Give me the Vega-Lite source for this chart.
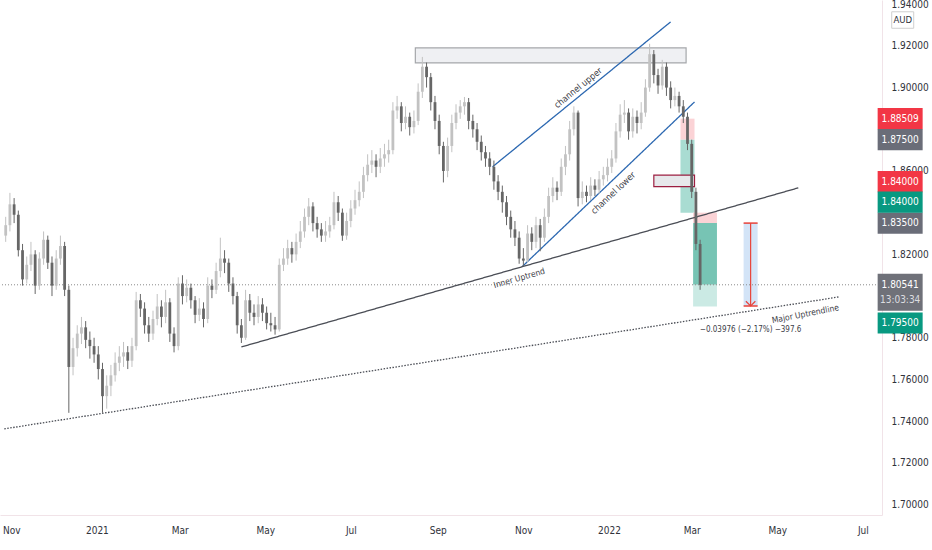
{
  "$schema": "https://vega.github.io/schema/vega-lite/v6.json",
  "width": 882,
  "height": 515,
  "autosize": {"type": "none"},
  "padding": {"left": 0, "top": 0, "right": 50, "bottom": 35},
  "background": "#ffffff",
  "config": {
    "view": {"stroke": null},
    "font": "DejaVu Sans Condensed, DejaVu Sans, sans-serif",
    "axis": {
      "labelFont": "DejaVu Sans Condensed, DejaVu Sans, sans-serif",
      "labelFontSize": 10,
      "labelColor": "#2f323a",
      "grid": false,
      "ticks": false,
      "tickSize": 0,
      "domainColor": "#f1e3e8",
      "zindex": 0
    }
  },
  "datasets": {
    "candles": [
      {"d": "2020-10-28", "o": 1.829, "h": 1.838, "l": 1.826, "c": 1.834},
      {"d": "2020-10-31", "o": 1.834, "h": 1.8495, "l": 1.831, "c": 1.844},
      {"d": "2020-11-03", "o": 1.844, "h": 1.847, "l": 1.835, "c": 1.839},
      {"d": "2020-11-06", "o": 1.839, "h": 1.841, "l": 1.819, "c": 1.822},
      {"d": "2020-11-09", "o": 1.822, "h": 1.825, "l": 1.805, "c": 1.808},
      {"d": "2020-11-12", "o": 1.808, "h": 1.819, "l": 1.806, "c": 1.815},
      {"d": "2020-11-15", "o": 1.815, "h": 1.826, "l": 1.812, "c": 1.82},
      {"d": "2020-11-18", "o": 1.82, "h": 1.822, "l": 1.801, "c": 1.805},
      {"d": "2020-11-21", "o": 1.805, "h": 1.821, "l": 1.803, "c": 1.818},
      {"d": "2020-11-24", "o": 1.818, "h": 1.831, "l": 1.815, "c": 1.827},
      {"d": "2020-11-27", "o": 1.827, "h": 1.829, "l": 1.813, "c": 1.816},
      {"d": "2020-11-30", "o": 1.816, "h": 1.819, "l": 1.8, "c": 1.805},
      {"d": "2020-12-03", "o": 1.805, "h": 1.822, "l": 1.803, "c": 1.818},
      {"d": "2020-12-06", "o": 1.818, "h": 1.829, "l": 1.815, "c": 1.824},
      {"d": "2020-12-09", "o": 1.824, "h": 1.826, "l": 1.8, "c": 1.803},
      {"d": "2020-12-12", "o": 1.803, "h": 1.805, "l": 1.744, "c": 1.766},
      {"d": "2020-12-15", "o": 1.766, "h": 1.78, "l": 1.762, "c": 1.775},
      {"d": "2020-12-18", "o": 1.775, "h": 1.786, "l": 1.771, "c": 1.782},
      {"d": "2020-12-21", "o": 1.782, "h": 1.79, "l": 1.777, "c": 1.785},
      {"d": "2020-12-24", "o": 1.785, "h": 1.788, "l": 1.775, "c": 1.779},
      {"d": "2020-12-27", "o": 1.779, "h": 1.783, "l": 1.77, "c": 1.776},
      {"d": "2020-12-30", "o": 1.776, "h": 1.78, "l": 1.768, "c": 1.772},
      {"d": "2021-01-02", "o": 1.772, "h": 1.776, "l": 1.76, "c": 1.765},
      {"d": "2021-01-05", "o": 1.765, "h": 1.768, "l": 1.744, "c": 1.752},
      {"d": "2021-01-08", "o": 1.752, "h": 1.762, "l": 1.746, "c": 1.757},
      {"d": "2021-01-11", "o": 1.757, "h": 1.767, "l": 1.752, "c": 1.762},
      {"d": "2021-01-14", "o": 1.762, "h": 1.773, "l": 1.759, "c": 1.768},
      {"d": "2021-01-17", "o": 1.768, "h": 1.776, "l": 1.764, "c": 1.771},
      {"d": "2021-01-20", "o": 1.771, "h": 1.778, "l": 1.766, "c": 1.773},
      {"d": "2021-01-23", "o": 1.773, "h": 1.776, "l": 1.765, "c": 1.769},
      {"d": "2021-01-26", "o": 1.769, "h": 1.78, "l": 1.766, "c": 1.776},
      {"d": "2021-01-29", "o": 1.776, "h": 1.802, "l": 1.774, "c": 1.798},
      {"d": "2021-02-01", "o": 1.798, "h": 1.801, "l": 1.79, "c": 1.794},
      {"d": "2021-02-04", "o": 1.794, "h": 1.797, "l": 1.782, "c": 1.786},
      {"d": "2021-02-07", "o": 1.786, "h": 1.79, "l": 1.778, "c": 1.782},
      {"d": "2021-02-10", "o": 1.782, "h": 1.793, "l": 1.779, "c": 1.789},
      {"d": "2021-02-13", "o": 1.789, "h": 1.801, "l": 1.786, "c": 1.795},
      {"d": "2021-02-16", "o": 1.795, "h": 1.798, "l": 1.785, "c": 1.79},
      {"d": "2021-02-19", "o": 1.79, "h": 1.803, "l": 1.787, "c": 1.797},
      {"d": "2021-02-22", "o": 1.797, "h": 1.799, "l": 1.778, "c": 1.782},
      {"d": "2021-02-25", "o": 1.782, "h": 1.785, "l": 1.773, "c": 1.776},
      {"d": "2021-02-28", "o": 1.776, "h": 1.809, "l": 1.774, "c": 1.806},
      {"d": "2021-03-03", "o": 1.806, "h": 1.81, "l": 1.796, "c": 1.8},
      {"d": "2021-03-06", "o": 1.8, "h": 1.808, "l": 1.797, "c": 1.804},
      {"d": "2021-03-09", "o": 1.804, "h": 1.806, "l": 1.794, "c": 1.798},
      {"d": "2021-03-12", "o": 1.798, "h": 1.8, "l": 1.787, "c": 1.791},
      {"d": "2021-03-15", "o": 1.791, "h": 1.799, "l": 1.788, "c": 1.794},
      {"d": "2021-03-18", "o": 1.794, "h": 1.797, "l": 1.785, "c": 1.789},
      {"d": "2021-03-21", "o": 1.789, "h": 1.809, "l": 1.787, "c": 1.805},
      {"d": "2021-03-24", "o": 1.805, "h": 1.808, "l": 1.799, "c": 1.803},
      {"d": "2021-03-27", "o": 1.803, "h": 1.816, "l": 1.801, "c": 1.812},
      {"d": "2021-03-30", "o": 1.812, "h": 1.828, "l": 1.809, "c": 1.818},
      {"d": "2021-04-02", "o": 1.818, "h": 1.822, "l": 1.811, "c": 1.816},
      {"d": "2021-04-05", "o": 1.816, "h": 1.818, "l": 1.802, "c": 1.806},
      {"d": "2021-04-08", "o": 1.806, "h": 1.809, "l": 1.796, "c": 1.8},
      {"d": "2021-04-11", "o": 1.8, "h": 1.802, "l": 1.782, "c": 1.786},
      {"d": "2021-04-14", "o": 1.786, "h": 1.789, "l": 1.7775, "c": 1.78},
      {"d": "2021-04-17", "o": 1.78, "h": 1.803, "l": 1.779, "c": 1.798},
      {"d": "2021-04-20", "o": 1.798, "h": 1.801, "l": 1.788, "c": 1.792},
      {"d": "2021-04-23", "o": 1.792, "h": 1.796, "l": 1.786, "c": 1.79},
      {"d": "2021-04-26", "o": 1.79, "h": 1.8, "l": 1.787, "c": 1.796},
      {"d": "2021-04-29", "o": 1.796, "h": 1.799, "l": 1.788, "c": 1.792},
      {"d": "2021-05-02", "o": 1.792, "h": 1.795, "l": 1.784, "c": 1.787},
      {"d": "2021-05-05", "o": 1.787, "h": 1.792, "l": 1.783, "c": 1.786},
      {"d": "2021-05-08", "o": 1.786, "h": 1.79, "l": 1.7815, "c": 1.784},
      {"d": "2021-05-11", "o": 1.784, "h": 1.818, "l": 1.783, "c": 1.815},
      {"d": "2021-05-14", "o": 1.815, "h": 1.823, "l": 1.812, "c": 1.818},
      {"d": "2021-05-17", "o": 1.818, "h": 1.827, "l": 1.815, "c": 1.823},
      {"d": "2021-05-20", "o": 1.823, "h": 1.826, "l": 1.816, "c": 1.82},
      {"d": "2021-05-23", "o": 1.82, "h": 1.83, "l": 1.817, "c": 1.826},
      {"d": "2021-05-26", "o": 1.826, "h": 1.836, "l": 1.823, "c": 1.831},
      {"d": "2021-05-29", "o": 1.831, "h": 1.842, "l": 1.828, "c": 1.838},
      {"d": "2021-06-01", "o": 1.838, "h": 1.847, "l": 1.834, "c": 1.843},
      {"d": "2021-06-04", "o": 1.843, "h": 1.845, "l": 1.831, "c": 1.835},
      {"d": "2021-06-07", "o": 1.835, "h": 1.838, "l": 1.828, "c": 1.832},
      {"d": "2021-06-10", "o": 1.832, "h": 1.835, "l": 1.826, "c": 1.829},
      {"d": "2021-06-13", "o": 1.829, "h": 1.836, "l": 1.826, "c": 1.831},
      {"d": "2021-06-16", "o": 1.831, "h": 1.838, "l": 1.828, "c": 1.834},
      {"d": "2021-06-19", "o": 1.834, "h": 1.85, "l": 1.832, "c": 1.845},
      {"d": "2021-06-22", "o": 1.845, "h": 1.848, "l": 1.836, "c": 1.84},
      {"d": "2021-06-25", "o": 1.84, "h": 1.842, "l": 1.8265, "c": 1.829},
      {"d": "2021-06-28", "o": 1.829, "h": 1.84, "l": 1.827, "c": 1.836},
      {"d": "2021-07-01", "o": 1.836, "h": 1.846, "l": 1.833, "c": 1.842},
      {"d": "2021-07-04", "o": 1.842, "h": 1.851, "l": 1.839, "c": 1.846},
      {"d": "2021-07-07", "o": 1.846, "h": 1.855, "l": 1.843, "c": 1.85},
      {"d": "2021-07-10", "o": 1.85, "h": 1.862, "l": 1.847, "c": 1.858},
      {"d": "2021-07-13", "o": 1.858, "h": 1.868, "l": 1.855, "c": 1.863},
      {"d": "2021-07-16", "o": 1.863, "h": 1.87, "l": 1.859, "c": 1.865},
      {"d": "2021-07-19", "o": 1.865, "h": 1.868, "l": 1.857, "c": 1.862},
      {"d": "2021-07-22", "o": 1.862, "h": 1.871, "l": 1.859, "c": 1.866},
      {"d": "2021-07-25", "o": 1.866, "h": 1.873, "l": 1.862, "c": 1.868},
      {"d": "2021-07-28", "o": 1.868, "h": 1.875, "l": 1.864, "c": 1.87},
      {"d": "2021-07-31", "o": 1.87, "h": 1.893, "l": 1.868, "c": 1.889},
      {"d": "2021-08-03", "o": 1.889, "h": 1.896, "l": 1.885, "c": 1.891},
      {"d": "2021-08-06", "o": 1.891, "h": 1.893, "l": 1.879, "c": 1.883},
      {"d": "2021-08-09", "o": 1.883, "h": 1.891, "l": 1.88, "c": 1.886},
      {"d": "2021-08-12", "o": 1.886, "h": 1.888, "l": 1.877, "c": 1.881},
      {"d": "2021-08-15", "o": 1.881, "h": 1.889, "l": 1.878, "c": 1.884},
      {"d": "2021-08-18", "o": 1.884, "h": 1.902, "l": 1.882, "c": 1.898},
      {"d": "2021-08-21", "o": 1.898, "h": 1.9147, "l": 1.895, "c": 1.91},
      {"d": "2021-08-24", "o": 1.91, "h": 1.912, "l": 1.9, "c": 1.905},
      {"d": "2021-08-27", "o": 1.905, "h": 1.907, "l": 1.889, "c": 1.893},
      {"d": "2021-08-30", "o": 1.893, "h": 1.896, "l": 1.88, "c": 1.884},
      {"d": "2021-09-02", "o": 1.884, "h": 1.887, "l": 1.868, "c": 1.872},
      {"d": "2021-09-05", "o": 1.872, "h": 1.874, "l": 1.8545, "c": 1.86},
      {"d": "2021-09-08", "o": 1.86, "h": 1.876, "l": 1.857, "c": 1.872},
      {"d": "2021-09-11", "o": 1.872, "h": 1.887, "l": 1.869, "c": 1.883},
      {"d": "2021-09-14", "o": 1.883, "h": 1.892, "l": 1.88, "c": 1.888},
      {"d": "2021-09-17", "o": 1.888, "h": 1.894, "l": 1.885, "c": 1.891},
      {"d": "2021-09-20", "o": 1.891, "h": 1.8955, "l": 1.887, "c": 1.893},
      {"d": "2021-09-23", "o": 1.893, "h": 1.895, "l": 1.88, "c": 1.884},
      {"d": "2021-09-26", "o": 1.884, "h": 1.887, "l": 1.876, "c": 1.88},
      {"d": "2021-09-29", "o": 1.88, "h": 1.883, "l": 1.87, "c": 1.874},
      {"d": "2021-10-02", "o": 1.874, "h": 1.877, "l": 1.865, "c": 1.869},
      {"d": "2021-10-05", "o": 1.869, "h": 1.872, "l": 1.862, "c": 1.866},
      {"d": "2021-10-08", "o": 1.866, "h": 1.869, "l": 1.858, "c": 1.862},
      {"d": "2021-10-11", "o": 1.862, "h": 1.865, "l": 1.851, "c": 1.855},
      {"d": "2021-10-14", "o": 1.855, "h": 1.858, "l": 1.846, "c": 1.85},
      {"d": "2021-10-17", "o": 1.85, "h": 1.853, "l": 1.84, "c": 1.845},
      {"d": "2021-10-20", "o": 1.845, "h": 1.848, "l": 1.834, "c": 1.838},
      {"d": "2021-10-23", "o": 1.838, "h": 1.841, "l": 1.828, "c": 1.832},
      {"d": "2021-10-26", "o": 1.832, "h": 1.836, "l": 1.824, "c": 1.828},
      {"d": "2021-10-29", "o": 1.828, "h": 1.831, "l": 1.8155, "c": 1.818},
      {"d": "2021-11-01", "o": 1.818, "h": 1.823, "l": 1.8145, "c": 1.817},
      {"d": "2021-11-04", "o": 1.817, "h": 1.834, "l": 1.816, "c": 1.83},
      {"d": "2021-11-07", "o": 1.83, "h": 1.833, "l": 1.822, "c": 1.826},
      {"d": "2021-11-10", "o": 1.826, "h": 1.838, "l": 1.823, "c": 1.834},
      {"d": "2021-11-13", "o": 1.834, "h": 1.837, "l": 1.8215, "c": 1.828},
      {"d": "2021-11-16", "o": 1.828, "h": 1.842, "l": 1.826, "c": 1.838},
      {"d": "2021-11-19", "o": 1.838, "h": 1.852, "l": 1.835, "c": 1.848},
      {"d": "2021-11-22", "o": 1.848, "h": 1.857, "l": 1.845, "c": 1.852},
      {"d": "2021-11-25", "o": 1.852, "h": 1.855, "l": 1.846, "c": 1.85},
      {"d": "2021-11-28", "o": 1.85, "h": 1.866, "l": 1.848, "c": 1.862},
      {"d": "2021-12-01", "o": 1.862, "h": 1.872, "l": 1.858, "c": 1.868},
      {"d": "2021-12-04", "o": 1.868, "h": 1.884, "l": 1.865, "c": 1.88},
      {"d": "2021-12-07", "o": 1.88, "h": 1.891, "l": 1.877, "c": 1.888},
      {"d": "2021-12-10", "o": 1.888, "h": 1.889, "l": 1.843, "c": 1.847},
      {"d": "2021-12-13", "o": 1.847, "h": 1.855, "l": 1.844, "c": 1.85},
      {"d": "2021-12-16", "o": 1.85, "h": 1.853, "l": 1.845, "c": 1.848},
      {"d": "2021-12-19", "o": 1.848, "h": 1.857, "l": 1.846, "c": 1.853},
      {"d": "2021-12-22", "o": 1.853, "h": 1.856, "l": 1.848, "c": 1.851},
      {"d": "2021-12-25", "o": 1.851, "h": 1.86, "l": 1.849, "c": 1.856},
      {"d": "2021-12-28", "o": 1.856, "h": 1.862, "l": 1.853, "c": 1.858},
      {"d": "2021-12-31", "o": 1.858, "h": 1.866, "l": 1.855, "c": 1.862},
      {"d": "2022-01-03", "o": 1.862, "h": 1.87, "l": 1.859, "c": 1.866},
      {"d": "2022-01-06", "o": 1.866, "h": 1.883, "l": 1.864, "c": 1.879},
      {"d": "2022-01-09", "o": 1.879, "h": 1.892, "l": 1.876, "c": 1.887},
      {"d": "2022-01-12", "o": 1.887, "h": 1.894, "l": 1.883, "c": 1.888},
      {"d": "2022-01-15", "o": 1.888, "h": 1.89, "l": 1.875, "c": 1.879},
      {"d": "2022-01-18", "o": 1.879, "h": 1.89, "l": 1.876, "c": 1.886},
      {"d": "2022-01-21", "o": 1.886, "h": 1.889, "l": 1.878, "c": 1.883},
      {"d": "2022-01-24", "o": 1.883, "h": 1.893, "l": 1.88, "c": 1.888},
      {"d": "2022-01-27", "o": 1.888, "h": 1.904, "l": 1.886, "c": 1.9},
      {"d": "2022-01-30", "o": 1.9, "h": 1.921, "l": 1.898, "c": 1.916},
      {"d": "2022-02-02", "o": 1.916, "h": 1.918, "l": 1.902, "c": 1.906},
      {"d": "2022-02-05", "o": 1.906, "h": 1.909, "l": 1.897, "c": 1.901},
      {"d": "2022-02-08", "o": 1.901, "h": 1.9133, "l": 1.899, "c": 1.91},
      {"d": "2022-02-11", "o": 1.91, "h": 1.912, "l": 1.896, "c": 1.9},
      {"d": "2022-02-14", "o": 1.9, "h": 1.903, "l": 1.89, "c": 1.894},
      {"d": "2022-02-17", "o": 1.894, "h": 1.9, "l": 1.891, "c": 1.896},
      {"d": "2022-02-20", "o": 1.896, "h": 1.898, "l": 1.888, "c": 1.891},
      {"d": "2022-02-23", "o": 1.891, "h": 1.894, "l": 1.883, "c": 1.886},
      {"d": "2022-02-26", "o": 1.886, "h": 1.888, "l": 1.87, "c": 1.873},
      {"d": "2022-03-01", "o": 1.873, "h": 1.875, "l": 1.847, "c": 1.85},
      {"d": "2022-03-04", "o": 1.85, "h": 1.852, "l": 1.822, "c": 1.825},
      {"d": "2022-03-07", "o": 1.825, "h": 1.827, "l": 1.803, "c": 1.80541}
    ],
    "zones": [
      {"kind": "resistance", "d1": "2021-08-16", "d2": "2022-02-25", "p1": 1.9118, "p2": 1.919},
      {"kind": "stop", "d1": "2022-02-21", "d2": "2022-03-03", "p1": 1.875, "p2": 1.88509},
      {"kind": "target", "d1": "2022-02-21", "d2": "2022-03-03", "p1": 1.84, "p2": 1.875},
      {"kind": "stop", "d1": "2022-03-02", "d2": "2022-03-19", "p1": 1.835, "p2": 1.84},
      {"kind": "open", "d1": "2022-03-02", "d2": "2022-03-19", "p1": 1.80541, "p2": 1.835},
      {"kind": "rest", "d1": "2022-03-02", "d2": "2022-03-19", "p1": 1.795, "p2": 1.80541},
      {"kind": "measure", "d1": "2022-04-07", "d2": "2022-04-17", "p1": 1.79524, "p2": 1.835},
      {"kind": "box", "d1": "2022-02-02", "d2": "2022-03-03", "p1": 1.8525, "p2": 1.858}
    ],
    "lines": [
      {"name": "upper", "d": "2021-10-10", "p": 1.862},
      {"name": "upper", "d": "2022-02-14", "p": 1.9315},
      {"name": "lower", "d": "2021-10-31", "p": 1.814},
      {"name": "lower", "d": "2022-03-03", "p": 1.8931},
      {"name": "inner", "d": "2021-04-14", "p": 1.7756},
      {"name": "inner", "d": "2022-05-16", "p": 1.8519},
      {"name": "major", "d": "2020-10-27", "p": 1.7363},
      {"name": "major", "d": "2022-06-14", "p": 1.7996}
    ],
    "measure": [
      {"d": "2022-04-12", "d1": "2022-04-07", "d2": "2022-04-17", "top": 1.835, "bot": 1.79524}
    ],
    "badges": [
      {"role": "stop1", "kind": "stop", "v": 1.88509, "lab": "1.88509"},
      {"role": "entry1", "kind": "entry", "v": 1.875, "lab": "1.87500"},
      {"role": "stop2", "kind": "stop", "v": 1.84, "lab": "1.84000"},
      {"role": "target1", "kind": "target", "v": 1.84, "lab": "1.84000"},
      {"role": "entry2", "kind": "entry", "v": 1.835, "lab": "1.83500"},
      {"role": "last", "kind": "entry", "v": 1.80541, "lab": "1.80541", "sub": "13:03:34"},
      {"role": "target2", "kind": "target", "v": 1.795, "lab": "1.79500"}
    ]
  },
  "layer": [
    {
      "data": {"name": "zones", "format": {"parse": {"d1": "date", "d2": "date"}}},
      "mark": {"type": "rect", "strokeWidth": 1.2},
      "encoding": {
        "x": {
          "field": "d1",
          "type": "temporal",
          "scale": {
            "domain": [
              {"year": 2020, "month": 10, "date": 27, "hours": 12},
              {"year": 2022, "month": 7, "date": 11, "hours": 2}
            ],
            "nice": false
          },
          "axis": {
            "title": null,
            "orient": "bottom",
            "values": [
              {"year": 2020, "month": 11, "date": 1},
              {"year": 2021, "month": 1, "date": 1},
              {"year": 2021, "month": 3, "date": 1},
              {"year": 2021, "month": 5, "date": 1},
              {"year": 2021, "month": 7, "date": 1},
              {"year": 2021, "month": 9, "date": 1},
              {"year": 2021, "month": 11, "date": 1},
              {"year": 2022, "month": 1, "date": 1},
              {"year": 2022, "month": 3, "date": 1},
              {"year": 2022, "month": 5, "date": 1},
              {"year": 2022, "month": 7, "date": 1}
            ],
            "labelExpr": "month(datum.value) == 0 ? timeFormat(datum.value, '%Y') : timeFormat(datum.value, '%b')",
            "labelPadding": 10,
            "labelFlush": false,
            "labelOverlap": false
          }
        },
        "x2": {"field": "d2"},
        "y": {
          "field": "p1",
          "type": "quantitative",
          "scale": {"domain": [1.695, 1.942], "nice": false, "zero": false},
          "axis": {
            "title": null,
            "orient": "right",
            "values": [1.7, 1.72, 1.74, 1.76, 1.78, 1.82, 1.86, 1.9, 1.92, 1.94],
            "format": ".5f",
            "labelPadding": 9,
            "labelAlign": "left",
            "labelOverlap": false
          }
        },
        "y2": {"field": "p2"},
        "fill": {
          "field": "kind",
          "type": "nominal",
          "scale": {
            "domain": ["resistance", "stop", "target", "open", "rest", "measure", "box"],
            "range": ["#eff0f3", "#fbd3d6", "#a9dcd2", "#77c4b4", "#cbeae4", "#d3e4f7", "#e7e8eb"]
          },
          "legend": null
        },
        "stroke": {
          "field": "kind",
          "type": "nominal",
          "scale": {
            "domain": ["resistance", "stop", "target", "open", "rest", "measure", "box"],
            "range": ["#a5a7ab", "rgba(0,0,0,0)", "rgba(0,0,0,0)", "rgba(0,0,0,0)", "rgba(0,0,0,0)", "rgba(0,0,0,0)", "#9c1e40"]
          },
          "legend": null
        }
      }
    },
    {
      "data": {"values": [{"last": 1.80541}]},
      "mark": {"type": "rule", "strokeDash": [1, 2], "color": "#8a8a8a", "strokeWidth": 1},
      "encoding": {"y": {"field": "last", "type": "quantitative"}}
    },
    {
      "data": {"name": "lines", "format": {"parse": {"d": "date"}}},
      "mark": {"type": "line", "strokeWidth": 1.3},
      "encoding": {
        "x": {"field": "d", "type": "temporal"},
        "y": {"field": "p", "type": "quantitative"},
        "detail": {"field": "name"},
        "color": {
          "field": "name",
          "type": "nominal",
          "scale": {"domain": ["upper", "lower", "inner", "major"], "range": ["#2c68b1", "#2c68b1", "#4a4d55", "#4a4d55"]},
          "legend": null
        },
        "strokeDash": {
          "field": "name",
          "type": "nominal",
          "scale": {"domain": ["upper", "lower", "inner", "major"], "range": [[1, 0], [1, 0], [1, 0], [1.5, 1.5]]},
          "legend": null
        }
      }
    },
    {
      "data": {"name": "candles", "format": {"parse": {"d": "date"}}},
      "encoding": {
        "x": {"field": "d", "type": "temporal"},
        "color": {"condition": {"test": "datum.c >= datum.o", "value": "#c2c2c2"}, "value": "#666666"}
      },
      "layer": [
        {
          "mark": {"type": "rule", "strokeWidth": 1},
          "encoding": {"y": {"field": "l", "type": "quantitative"}, "y2": {"field": "h"}}
        },
        {
          "mark": {"type": "bar", "width": 2.8},
          "encoding": {"y": {"field": "o", "type": "quantitative"}, "y2": {"field": "c"}}
        }
      ]
    },
    {
      "data": {"name": "measure", "format": {"parse": {"d": "date", "d1": "date", "d2": "date"}}},
      "layer": [
        {
          "mark": {"type": "rule", "color": "#e8433a", "strokeWidth": 1.2},
          "encoding": {
            "x": {"field": "d", "type": "temporal"},
            "y": {"field": "top", "type": "quantitative"},
            "y2": {"field": "bot"}
          }
        },
        {
          "mark": {"type": "rule", "color": "#e8433a", "strokeWidth": 1.5},
          "encoding": {
            "x": {"field": "d1", "type": "temporal"},
            "x2": {"field": "d2"},
            "y": {"field": "top", "type": "quantitative"}
          }
        },
        {
          "mark": {"type": "rule", "color": "#e8433a", "strokeWidth": 1.5},
          "encoding": {
            "x": {"field": "d1", "type": "temporal"},
            "x2": {"field": "d2"},
            "y": {"field": "bot", "type": "quantitative"}
          }
        },
        {
          "mark": {"type": "point", "shape": "M-1,-1L0,0L1,-1", "size": 90, "filled": false, "color": "#e8433a", "strokeWidth": 1.2, "opacity": 1},
          "encoding": {
            "x": {"field": "d", "type": "temporal"},
            "y": {"field": "bot", "type": "quantitative"}
          }
        }
      ]
    },
    {
      "data": {"values": [{"t": "channel upper", "d": "2021-12-10", "p": 1.8999}]},
      "mark": {"type": "text", "angle": -39, "fontSize": 9, "color": "#3d4048", "align": "center", "baseline": "middle"},
      "encoding": {
        "x": {"field": "d", "type": "temporal"},
        "y": {"field": "p", "type": "quantitative"},
        "text": {"field": "t"}
      }
    },
    {
      "data": {"values": [{"t": "channel lower", "d": "2022-01-04", "p": 1.8495}]},
      "mark": {"type": "text", "angle": -43, "fontSize": 9, "color": "#3d4048", "align": "center", "baseline": "middle"},
      "encoding": {
        "x": {"field": "d", "type": "temporal"},
        "y": {"field": "p", "type": "quantitative"},
        "text": {"field": "t"}
      }
    },
    {
      "data": {"values": [{"t": "Inner Uptrend", "d": "2021-10-29", "p": 1.8087}]},
      "mark": {"type": "text", "angle": -16, "fontSize": 8.5, "color": "#3d4048", "align": "center", "baseline": "middle"},
      "encoding": {
        "x": {"field": "d", "type": "temporal"},
        "y": {"field": "p", "type": "quantitative"},
        "text": {"field": "t"}
      }
    },
    {
      "data": {"values": [{"t": "Major Uptrendline", "d": "2022-05-21", "p": 1.7915}]},
      "mark": {"type": "text", "angle": -11, "fontSize": 8.5, "color": "#3d4048", "align": "center", "baseline": "middle"},
      "encoding": {
        "x": {"field": "d", "type": "temporal"},
        "y": {"field": "p", "type": "quantitative"},
        "text": {"field": "t"}
      }
    },
    {
      "data": {"values": [{"t": "−0.03976 (−2.17%) −397.6", "d": "2022-04-12", "p": 1.7838}]},
      "mark": {"type": "text", "fontSize": 8, "color": "#3d4048", "align": "center", "baseline": "middle"},
      "encoding": {
        "x": {"field": "d", "type": "temporal"},
        "y": {"field": "p", "type": "quantitative"},
        "text": {"field": "t"}
      }
    },
    {
      "data": {"values": [{"t": "AUD", "p": 1.9324}]},
      "encoding": {
        "x": {"datum": {"year": 2022, "month": 7, "date": 29, "hours": 10}, "type": "temporal"},
        "y": {"field": "p", "type": "quantitative"}
      },
      "layer": [
        {"mark": {"type": "point", "shape": "M-1,-0.75L1,-0.75L1,0.75L-1,0.75Z", "size": 484, "filled": true, "fill": "#ffffff", "stroke": "#cfcfcf", "strokeWidth": 1, "opacity": 1}},
        {"mark": {"type": "text", "fontSize": 9.5, "color": "#2f323a", "align": "center", "baseline": "middle"}, "encoding": {"text": {"field": "t"}}}
      ]
    },
    {
      "data": {"name": "badges"},
      "transform": [{"filter": "datum.role == 'stop1' || datum.role == 'entry1' || datum.role == 'entry2'"}],
      "encoding": {
        "x": {"datum": {"year": 2022, "month": 7, "date": 27, "hours": 14}, "type": "temporal"},
        "y": {"field": "v", "type": "quantitative"}
      },
      "layer": [
        {
          "mark": {"type": "point", "shape": "M-1,-0.47L1,-0.47L1,0.47L-1,0.47Z", "size": 2025, "filled": true, "opacity": 1, "strokeWidth": 0},
          "encoding": {"fill": {"condition": [{"test": "datum.kind == 'stop'", "value": "#f23645"}, {"test": "datum.kind == 'target'", "value": "#089981"}], "value": "#6a6d78"}}
        },
        {"mark": {"type": "text", "color": "#ffffff", "fontSize": 10, "align": "center", "baseline": "middle"}, "encoding": {"text": {"field": "lab"}}}
      ]
    },
    {
      "data": {"name": "badges"},
      "transform": [{"filter": "datum.role == 'stop2'"}],
      "encoding": {
        "x": {"datum": {"year": 2022, "month": 7, "date": 27, "hours": 14}, "type": "temporal"},
        "y": {"field": "v", "type": "quantitative"}
      },
      "layer": [
        {"mark": {"type": "point", "shape": "M-1,-0.47L1,-0.47L1,0.47L-1,0.47Z", "size": 2025, "filled": true, "opacity": 1, "strokeWidth": 0, "color": "#f23645", "yOffset": -31}},
        {"mark": {"type": "text", "color": "#ffffff", "fontSize": 10, "align": "center", "baseline": "middle", "yOffset": -31}, "encoding": {"text": {"field": "lab"}}}
      ]
    },
    {
      "data": {"name": "badges"},
      "transform": [{"filter": "datum.role == 'target1'"}],
      "encoding": {
        "x": {"datum": {"year": 2022, "month": 7, "date": 27, "hours": 14}, "type": "temporal"},
        "y": {"field": "v", "type": "quantitative"}
      },
      "layer": [
        {"mark": {"type": "point", "shape": "M-1,-0.47L1,-0.47L1,0.47L-1,0.47Z", "size": 2025, "filled": true, "opacity": 1, "strokeWidth": 0, "color": "#089981", "yOffset": -10.5}},
        {"mark": {"type": "text", "color": "#ffffff", "fontSize": 10, "align": "center", "baseline": "middle", "yOffset": -10.5}, "encoding": {"text": {"field": "lab"}}}
      ]
    },
    {
      "data": {"name": "badges"},
      "transform": [{"filter": "datum.role == 'target2'"}],
      "encoding": {
        "x": {"datum": {"year": 2022, "month": 7, "date": 27, "hours": 14}, "type": "temporal"},
        "y": {"field": "v", "type": "quantitative"}
      },
      "layer": [
        {"mark": {"type": "point", "shape": "M-1,-0.47L1,-0.47L1,0.47L-1,0.47Z", "size": 2025, "filled": true, "opacity": 1, "strokeWidth": 0, "color": "#089981", "yOffset": 16.5}},
        {"mark": {"type": "text", "color": "#ffffff", "fontSize": 10, "align": "center", "baseline": "middle", "yOffset": 16.5}, "encoding": {"text": {"field": "lab"}}}
      ]
    },
    {
      "data": {"name": "badges"},
      "transform": [{"filter": "datum.role == 'last'"}],
      "encoding": {
        "x": {"datum": {"year": 2022, "month": 7, "date": 27, "hours": 14}, "type": "temporal"},
        "y": {"field": "v", "type": "quantitative"}
      },
      "layer": [
        {"mark": {"type": "point", "shape": "M-1,-0.82L1,-0.82L1,0.82L-1,0.82Z", "size": 2025, "filled": true, "opacity": 1, "strokeWidth": 0, "color": "#6f7179", "yOffset": 7.5}},
        {"mark": {"type": "text", "color": "#ffffff", "fontSize": 10, "align": "center", "baseline": "middle"}, "encoding": {"text": {"field": "lab"}}},
        {"mark": {"type": "text", "color": "#dcdde0", "fontSize": 10, "align": "center", "baseline": "middle", "yOffset": 15}, "encoding": {"text": {"field": "sub"}}}
      ]
    }
  ]
}
